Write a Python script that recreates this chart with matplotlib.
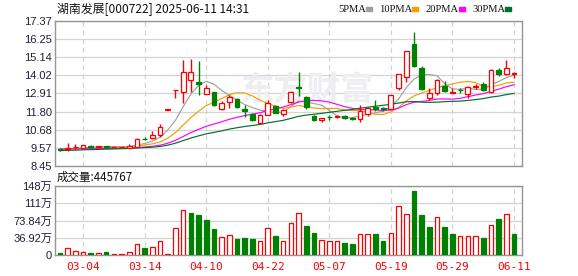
import matplotlib
matplotlib.use("Agg")
import matplotlib.pyplot as plt
import numpy as np
import pandas as pd
from matplotlib.patches import Rectangle

# daily k-line, 60 sessions (prices in yuan)
opens = [9.47, 9.52, 9.60, 9.56, 9.68, 9.60, 9.66, 9.60, 9.62, 9.56,
         9.64, 10.13, 10.16, 10.34, 11.92, 13.11, 12.99, 13.71, 13.60, 12.89,
         12.99, 11.98, 12.38, 12.58, 11.96, 11.64, 11.08, 11.60, 12.15, 11.62,
         12.38, 13.30, 12.72, 11.55, 11.27, 11.47, 11.45, 11.53, 11.38, 11.32,
         11.62, 12.05, 12.02, 11.98, 13.24, 13.95, 15.97, 14.47, 12.66, 12.93,
         13.40, 12.96, 13.15, 12.89, 13.30, 13.49, 12.99, 14.37, 14.10, 14.12]
highs = [9.50, 9.85, 9.81, 9.75, 9.72, 9.66, 9.69, 9.64, 9.65, 9.80,
         10.15, 10.22, 10.62, 11.04, 11.92, 13.11, 14.98, 15.03, 14.92, 13.42,
         13.02, 12.45, 12.83, 12.65, 12.21, 11.70, 11.62, 12.52, 12.20, 11.95,
         13.05, 14.22, 12.78, 11.60, 11.40, 11.59, 11.60, 11.60, 11.45, 12.21,
         12.05, 12.52, 12.10, 12.83, 14.09, 15.50, 16.67, 14.61, 13.24, 13.78,
         13.69, 13.24, 13.24, 13.38, 13.49, 13.60, 14.40, 14.50, 14.98, 14.26]
lows = [9.40, 9.39, 9.48, 9.54, 9.55, 9.57, 9.58, 9.57, 9.60, 9.53,
        9.60, 10.02, 10.14, 10.22, 11.92, 12.66, 12.35, 13.03, 12.83, 12.85,
        12.15, 11.92, 12.01, 12.02, 11.49, 11.20, 11.05, 11.58, 11.70, 11.55,
        12.30, 12.77, 11.95, 11.20, 11.15, 11.28, 11.42, 11.35, 11.28, 11.15,
        11.55, 11.86, 11.86, 11.95, 13.14, 13.59, 14.55, 13.15, 12.52, 12.80,
        13.02, 12.94, 12.95, 12.62, 13.16, 13.05, 12.95, 14.00, 14.02, 13.86]
closes = [9.44, 9.55, 9.64, 9.73, 9.60, 9.65, 9.62, 9.63, 9.64, 9.69,
          10.12, 10.10, 10.34, 10.84, 11.92, 13.11, 14.26, 14.22, 13.50, 13.24,
          12.19, 12.35, 12.72, 12.07, 11.82, 11.25, 11.58, 12.32, 11.74, 11.88,
          13.03, 13.25, 12.05, 11.25, 11.38, 11.44, 11.55, 11.42, 11.35, 11.84,
          12.02, 11.98, 11.96, 12.81, 14.09, 15.50, 14.63, 13.20, 12.95, 13.73,
          13.08, 12.98, 13.12, 13.28, 13.35, 13.14, 14.37, 14.10, 14.47, 14.16]
# volume in 万 shares
volume = [3.6, 15, 9.4, 6.5, 5, 5, 5.8, 2.9, 2.9, 7.2,
          24.6, 14.4, 18, 28.9, 1.4, 57, 96, 90, 86, 74.4,
          55, 39, 43.3, 33.2, 35.4, 33.2, 31, 57, 39.7, 31,
          67.9, 90.3, 62, 47, 33, 29.6, 29.6, 25.3, 23, 46,
          44, 44.8, 29.6, 47, 104.7, 87.4, 138, 86, 60, 81,
          60, 44.8, 39.7, 39.7, 39.7, 36, 63.6, 77.3, 88, 44.58]
# closes before the window, only used to start the moving averages
pre_closes = [9.18, 9.22, 9.15, 9.20, 9.25, 9.19, 9.21, 9.17, 9.23, 9.28,
              9.45, 9.52, 9.48, 9.55, 9.50, 9.46, 9.53, 9.49, 9.51, 9.47,
              9.52, 9.50, 9.48, 9.54, 9.49, 9.51, 9.46, 9.50, 9.48]

tick_pos = [3, 11, 19, 27, 35, 43, 51, 59]
tick_labels = ["03-04", "03-14", "04-10", "04-22", "05-07", "05-19", "05-29", "06-11"]
price_ticks = [8.45, 9.57, 10.68, 11.80, 12.91, 14.02, 15.14, 16.25, 17.37]
vol_ticks = [0, 36.92, 73.84, 110.76, 147.68]
vol_tick_labels = ["0", "36.92万", "73.84万", "111万", "148万"]
ma_names = ["5PMA", "10PMA", "20PMA", "30PMA"]
ma_windows = [5, 10, 20, 30]
ma_colors = ["#a0a0a0", "#f0a000", "#ff00ff", "#007030"]

RED = "#ff0000"
GREEN = "#008000"
GRID = "#d4d4d4"
EDGE = "#959595"
LBL = "#1e1e3a"

plt.rcParams['font.family'] = ['Liberation Sans', 'Noto Sans CJK SC', 'DejaVu Sans']

W, H = 578, 276
fig = plt.figure(figsize=(W / 100, H / 100), dpi=100)
ax = fig.add_axes([55 / W, 1 - 166 / H, 467 / W, 145 / H])
axv = fig.add_axes([55 / W, 1 - 255 / H, 467 / W, 69 / H])

x = np.arange(len(closes))
o = np.array(opens)
c = np.array(closes)
up = c >= o
xlim = (-0.65, 60.04)

# moving averages
allc = pd.Series(pre_closes + closes)
n0 = len(pre_closes)
for name, w, col in zip(ma_names, ma_windows, ma_colors):
    ma = allc.rolling(w).mean().values[n0:]
    ax.plot(x, ma, color=col, lw=0.85, zorder=3)

# candles
bw = 0.62
ax.vlines(x, lows, highs, colors=[RED if u else GREEN for u in up], lw=1.0, zorder=4)
bottom = np.minimum(o, c)
height = np.maximum(np.abs(c - o), 0.015)
ax.bar(x[up], height[up], bw, bottom=bottom[up], facecolor="white",
       edgecolor=RED, lw=0.9, zorder=5)
ax.bar(x[~up], height[~up], bw, bottom=bottom[~up], facecolor=GREEN,
       edgecolor=GREEN, lw=0.9, zorder=5)

# watermark
ax.text(0.54, 0.52, "东方财富", transform=ax.transAxes, fontsize=24,
        family=['Noto Sans CJK SC'], fontweight='bold', color="#eeeef2",
        ha='center', va='center', zorder=1)

ax.set_xlim(*xlim)
ax.set_ylim(8.45, 17.37)
ax.set_yticks(price_ticks)
ax.set_yticklabels(["%.2f" % v for v in price_ticks])
ax.set_xticks(tick_pos)
ax.set_xticklabels([])

# volume bars colored by change vs previous close
prev = np.r_[c[0] + 0.01, c[:-1]]
vup = c >= prev
vol = np.array(volume)
axv.bar(x[vup], vol[vup], 0.6, facecolor="white", edgecolor=RED, lw=0.9, zorder=3)
axv.bar(x[~vup], vol[~vup], 0.6, facecolor=GREEN, edgecolor=GREEN, lw=0.9, zorder=3)
axv.set_xlim(*xlim)
axv.set_ylim(0, 147.68)
axv.set_yticks(vol_ticks)
axv.set_yticklabels(vol_tick_labels)
axv.set_xticks(tick_pos)
axv.set_xticklabels(tick_labels, family=['DejaVu Sans Mono'], fontsize=7.5, color=RED)

for a in (ax, axv):
    a.grid(axis='y', color=GRID, lw=0.9, zorder=0)
    a.grid(axis='x', color=GRID, lw=0.9, ls=(0, (4, 3)), zorder=0)
    a.set_axisbelow(True)
    for s in a.spines.values():
        s.set_color(EDGE)
        s.set_linewidth(1.0)
    a.tick_params(length=0, pad=2, labelsize=8, labelcolor=LBL)
axv.tick_params(axis='x', pad=5, labelcolor=RED)

# header and legend
fig.text(57 / W, 1 - 9 / H, "湖南发展[000722] 2025-06-11 14:31", fontsize=8.6,
         family=['Noto Sans CJK SC'], color="#111111", va='center')
leg_x = [338, 379, 425, 472]
sq_x = [366, 412, 459, 505]
for name, col, lx, sx in zip(ma_names, ma_colors, leg_x, sq_x):
    fig.text(lx / W, 1 - 9 / H, name, fontsize=7.6, family=['Liberation Serif'],
             color="#111111", va='center')
    fig.patches.append(Rectangle((sx / W, 1 - 11 / H), 6 / W, 4 / H,
                                 transform=fig.transFigure, color=col))
fig.text(57 / W, 1 - 177 / H, "成交量:445767", fontsize=8.3,
         family=['Noto Sans CJK SC'], color="#111111", va='center')

fig.savefig("out.png", dpi=100, facecolor="white")
